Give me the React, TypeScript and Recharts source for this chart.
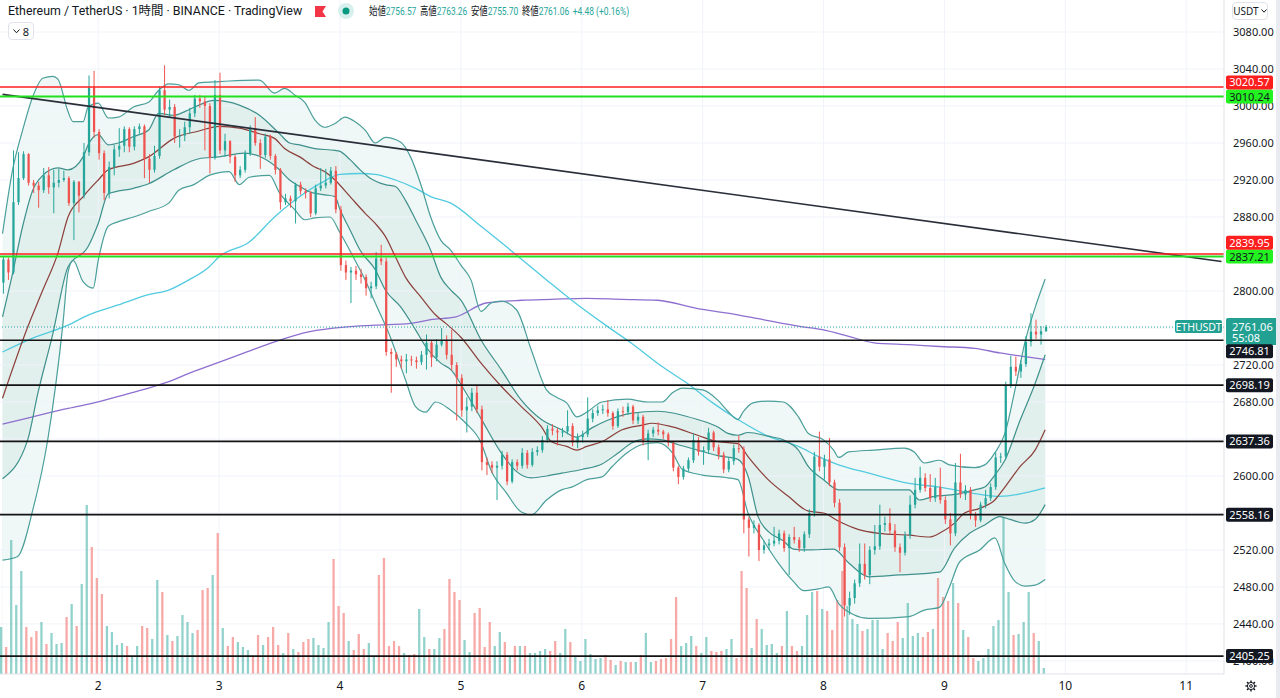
import React from "react";
import { ComposedChart, Bar, Line, Area, XAxis, YAxis, ReferenceLine } from "recharts";

// ETHUSDT 1h candles (open = previous close)
const firstOpen = 2809;

const closes = [
  2834, 2820, 2896, 2922, 2948, 2917, 2914, 2909, 2925, 2912,
  2917, 2920, 2922, 2895, 2918, 2903, 2950, 3020, 2972, 2949,
  2906, 2934, 2953, 2957, 2975, 2956, 2975, 2978, 2943, 2931,
  2946, 3017, 2996, 2999, 2967, 2968, 2977, 2992, 3008, 3005,
  3000, 2944, 3012, 2952, 2962, 2945, 2925, 2931, 2949, 2976,
  2960, 2947, 2967, 2946, 2931, 2896, 2900, 2897, 2915, 2908,
  2906, 2884, 2911, 2914, 2917, 2930, 2888, 2828, 2820, 2822,
  2818, 2815, 2803, 2805, 2835, 2832, 2734, 2732, 2726, 2724,
  2726, 2725, 2723, 2731, 2744, 2728, 2742, 2746, 2731, 2720,
  2706, 2671, 2675, 2690, 2672, 2615, 2612, 2609, 2611, 2623,
  2594, 2615, 2611, 2625, 2612, 2626, 2628, 2639, 2651, 2649,
  2647, 2648, 2654, 2636, 2642, 2645, 2662, 2668, 2671, 2672,
  2668, 2654, 2670, 2669, 2675, 2660, 2664, 2637, 2646, 2650,
  2648, 2645, 2636, 2609, 2599, 2608, 2617, 2639, 2626, 2628,
  2647, 2631, 2623, 2607, 2616, 2630, 2629, 2553, 2544, 2547,
  2520, 2525, 2527, 2530, 2538, 2522, 2534, 2531, 2522, 2537,
  2560, 2621, 2610, 2618, 2593, 2571, 2523, 2460, 2468, 2484,
  2505, 2493, 2520, 2524, 2547, 2549, 2541, 2523, 2517, 2536,
  2569, 2585, 2598, 2587, 2576, 2588, 2574, 2553, 2538, 2593,
  2580, 2585, 2558, 2552, 2569, 2576, 2588, 2620, 2621, 2698,
  2718, 2713, 2721, 2745, 2756, 2753, 2756.57, 2761.06,
];

const highs = [
  2837, 2836, 2952, 2950, 2951, 2949, 2920, 2918, 2933, 2934,
  2931, 2932, 2930, 2924, 2920, 2919, 2960, 3033, 3038, 2975,
  2952, 2940, 2958, 2976, 2978, 2977, 2978, 2981, 2980, 2948,
  2957, 3021, 3044, 3007, 3002, 2975, 2983, 2998, 3012, 3012,
  3010, 3003, 3028, 3036, 2970, 2963, 2947, 2935, 2952, 2979,
  2988, 2964, 2970, 2969, 2948, 2933, 2905, 2903, 2917, 2918,
  2911, 2908, 2915, 2933, 2932, 2934, 2935, 2892, 2833, 2826,
  2827, 2824, 2818, 2810, 2842, 2850, 2836, 2738, 2734, 2730,
  2732, 2730, 2729, 2735, 2753, 2747, 2748, 2760, 2752, 2758,
  2723, 2710, 2685, 2695, 2698, 2676, 2620, 2616, 2616, 2627,
  2626, 2618, 2618, 2630, 2628, 2630, 2632, 2643, 2655, 2656,
  2652, 2652, 2671, 2657, 2646, 2649, 2685, 2672, 2676, 2677,
  2682, 2670, 2673, 2675, 2679, 2677, 2668, 2666, 2650, 2653,
  2658, 2650, 2647, 2638, 2611, 2611, 2620, 2646, 2642, 2632,
  2652, 2649, 2634, 2626, 2620, 2634, 2644, 2632, 2556, 2552,
  2549, 2530, 2532, 2545, 2542, 2541, 2537, 2545, 2534, 2540,
  2564, 2626, 2648, 2623, 2641, 2596, 2575, 2527, 2475, 2488,
  2527, 2527, 2524, 2547, 2569, 2556, 2565, 2548, 2527, 2540,
  2579, 2598, 2610, 2603, 2602, 2598, 2609, 2578, 2560, 2614,
  2624, 2590, 2588, 2561, 2572, 2585, 2592, 2626, 2625, 2702,
  2730, 2729, 2725, 2751, 2776, 2769, 2762, 2763.26,
];

const lows = [
  2797, 2812, 2818, 2893, 2920, 2914, 2906, 2890, 2906, 2905,
  2884, 2912, 2918, 2892, 2855, 2885, 2900, 2946, 2966, 2942,
  2898, 2900, 2925, 2945, 2950, 2950, 2952, 2970, 2922, 2917,
  2928, 2943, 2990, 2988, 2960, 2955, 2962, 2970, 2988, 2998,
  2952, 2927, 2942, 2948, 2945, 2938, 2918, 2922, 2928, 2946,
  2957, 2932, 2944, 2942, 2926, 2888, 2893, 2890, 2873, 2904,
  2900, 2880, 2882, 2908, 2911, 2915, 2884, 2822, 2812, 2787,
  2812, 2808, 2795, 2792, 2802, 2828, 2730, 2690, 2718, 2716,
  2711, 2719, 2716, 2720, 2715, 2718, 2724, 2740, 2726, 2714,
  2660, 2664, 2647, 2670, 2668, 2606, 2601, 2603, 2574, 2607,
  2590, 2592, 2606, 2608, 2608, 2610, 2622, 2625, 2636, 2644,
  2633, 2642, 2645, 2632, 2630, 2636, 2642, 2658, 2665, 2667,
  2664, 2650, 2652, 2664, 2666, 2656, 2656, 2633, 2617, 2642,
  2644, 2640, 2632, 2605, 2591, 2596, 2605, 2614, 2622, 2612,
  2624, 2627, 2618, 2603, 2604, 2612, 2625, 2538, 2513, 2538,
  2508, 2516, 2520, 2524, 2526, 2518, 2493, 2527, 2518, 2518,
  2533, 2556, 2605, 2596, 2589, 2566, 2519, 2448, 2450, 2462,
  2480, 2488, 2483, 2515, 2520, 2540, 2537, 2518, 2496, 2514,
  2532, 2565, 2582, 2583, 2572, 2572, 2570, 2548, 2525, 2535,
  2576, 2574, 2553, 2545, 2550, 2565, 2573, 2585, 2614, 2618,
  2695, 2708, 2706, 2718, 2740, 2748, 2742, 2755.7,
];

// volume, thousand ETH
const volumes = [
  47, 27, 134, 69, 103, 47, 37, 43, 52, 30,
  41, 30, 31, 57, 70, 48, 90, 169, 127, 96,
  80, 48, 42, 29, 31, 28, 18, 28, 48, 46,
  35, 94, 82, 39, 33, 38, 59, 52, 41, 44,
  84, 86, 99, 141, 46, 28, 37, 32, 27, 24,
  18, 39, 29, 37, 47, 29, 21, 41, 25, 22,
  32, 35, 36, 29, 26, 52, 115, 68, 61, 33,
  24, 40, 25, 31, 18, 99, 116, 28, 33, 28,
  21, 19, 20, 65, 37, 25, 25, 36, 45, 95,
  82, 74, 34, 22, 61, 66, 27, 52, 28, 42,
  32, 18, 28, 28, 28, 21, 21, 23, 25, 23,
  33, 21, 45, 32, 18, 13, 35, 20, 15, 16,
  19, 14, 9, 13, 12, 12, 12, 19, 41, 12,
  13, 15, 16, 35, 77, 28, 31, 38, 28, 21,
  37, 23, 22, 23, 25, 35, 16, 103, 86, 26,
  55, 45, 29, 30, 21, 28, 63, 28, 23, 28,
  59, 82, 83, 65, 63, 44, 74, 103, 68, 55,
  50, 43, 45, 54, 54, 25, 41, 33, 52, 36,
  71, 38, 41, 37, 42, 45, 96, 77, 73, 91,
  71, 44, 37, 16, 13, 16, 25, 48, 54, 157,
  82, 39, 40, 52, 82, 41, 33, 6,
];

// indicator lines, [candle index, price]
const bandOuterUpper = [
  [0, 2862], [2, 2931], [4, 2974], [6, 3010], [8, 3030], [10, 3032], [11, 3029], [13, 2994], [14, 2983], [16, 2983],
  [17, 2999], [19, 3003], [21, 2987], [23, 2988], [26, 2999], [29, 3004], [31, 3017], [33, 3024], [35, 3023], [37, 3017],
  [39, 3025], [42, 3026], [45, 3027], [51, 3028], [54, 3014], [56, 3019], [58, 3012], [60, 3004], [62, 2985], [64, 2977],
  [66, 2981], [68, 2988], [70, 2983], [72, 2974], [74, 2960], [76, 2966], [79, 2961], [81, 2945], [83, 2916], [85, 2880],
  [87, 2855], [89, 2844], [91, 2828], [93, 2812], [95, 2778], [97, 2787], [99, 2789], [102, 2780], [105, 2736], [108, 2693],
  [110, 2685], [112, 2679], [114, 2664], [116, 2669], [119, 2680], [124, 2683], [128, 2680], [131, 2680], [133, 2690], [135, 2695],
  [139, 2693], [142, 2682], [144, 2670], [146, 2661], [147, 2669], [149, 2679], [152, 2681], [155, 2680], [158, 2664], [160, 2646],
  [163, 2639], [165, 2628], [166, 2620], [168, 2626], [173, 2628], [179, 2630], [181, 2626], [183, 2614], [186, 2617], [188, 2612],
  [193, 2609], [195, 2612], [197, 2625], [199, 2646], [201, 2693], [203, 2745], [205, 2782], [207, 2813],
];

const bandInnerUpper = [
  [0, 2772], [2, 2819], [4, 2870], [6, 2909], [8, 2925], [11, 2933], [13, 2931], [16, 2945], [17, 2958], [19, 2969],
  [21, 2958], [23, 2960], [26, 2967], [29, 2974], [31, 2992], [34, 2990], [37, 2996], [39, 3001], [42, 3006], [47, 3001],
  [51, 2990], [55, 2970], [57, 2960], [59, 2958], [62, 2954], [66, 2952], [67, 2951], [69, 2942], [71, 2931], [73, 2922],
  [76, 2915], [78, 2913], [80, 2898], [82, 2877], [85, 2844], [87, 2815], [89, 2801], [91, 2790], [95, 2747], [99, 2715],
  [103, 2682], [107, 2661], [111, 2650], [114, 2642], [117, 2652], [120, 2660], [125, 2668], [130, 2670], [138, 2661], [142, 2653],
  [144, 2646], [146, 2644], [148, 2647], [152, 2643], [155, 2639], [158, 2628], [160, 2610], [163, 2596], [166, 2585], [168, 2585],
  [180, 2585], [182, 2574], [185, 2578], [187, 2579], [190, 2581], [193, 2585], [195, 2588], [197, 2601], [199, 2617], [202, 2660],
  [205, 2700], [207, 2731],
];

const bandBasis = [
  [0, 2684], [5, 2761], [8, 2801], [11, 2841], [13, 2880], [16, 2902], [19, 2920], [21, 2931], [26, 2938], [29, 2945],
  [34, 2965], [39, 2973], [43, 2978], [47, 2976], [51, 2970], [54, 2965], [56, 2954], [59, 2945], [62, 2934], [64, 2929],
  [66, 2920], [69, 2902], [72, 2884], [74, 2873], [76, 2859], [78, 2837], [80, 2815], [83, 2794], [86, 2774], [88, 2765],
  [91, 2750], [95, 2722], [99, 2697], [103, 2675], [107, 2653], [109, 2637], [112, 2632], [114, 2628], [116, 2632], [119, 2637],
  [123, 2650], [127, 2655], [129, 2657], [133, 2653], [138, 2644], [142, 2637], [146, 2635], [148, 2621], [152, 2596], [156, 2578],
  [160, 2562], [163, 2560], [166, 2551], [170, 2542], [174, 2538], [180, 2536], [184, 2534], [186, 2538], [189, 2549], [191, 2560],
  [194, 2565], [197, 2574], [199, 2588], [202, 2610], [205, 2628], [207, 2650],
];

const bandInnerLower = [
  [0, 2597], [5, 2639], [7, 2689], [10, 2754], [13, 2826], [17, 2848], [19, 2873], [21, 2905], [26, 2911], [29, 2916],
  [34, 2931], [39, 2943], [43, 2945], [48, 2949], [52, 2943], [55, 2931], [57, 2920], [59, 2913], [61, 2907], [64, 2904],
  [66, 2902], [67, 2888], [69, 2866], [71, 2844], [74, 2823], [76, 2801], [79, 2783], [82, 2758], [84, 2740], [87, 2722],
  [89, 2715], [92, 2690], [95, 2662], [99, 2625], [102, 2605], [105, 2598], [108, 2600], [111, 2603], [115, 2607], [119, 2613],
  [122, 2624], [125, 2636], [128, 2640], [131, 2639], [134, 2634], [138, 2628], [142, 2622], [146, 2618], [148, 2600], [150, 2556],
  [152, 2540], [155, 2530], [157, 2521], [160, 2520], [165, 2521], [168, 2506], [172, 2491], [178, 2493], [186, 2496], [189, 2522],
  [192, 2538], [195, 2547], [198, 2556], [200, 2553], [203, 2549], [205, 2553], [207, 2569],
];

const bandOuterLower = [
  [0, 2509], [3, 2513], [6, 2563], [9, 2640], [12, 2765], [13, 2820], [14, 2833], [16, 2810], [18, 2803], [19, 2833],
  [21, 2870], [23, 2875], [26, 2880], [29, 2886], [33, 2895], [35, 2909], [38, 2915], [41, 2925], [43, 2928], [45, 2929],
  [47, 2915], [49, 2923], [53, 2925], [55, 2906], [58, 2888], [60, 2877], [62, 2879], [65, 2880], [67, 2863], [70, 2833],
  [72, 2812], [74, 2787], [77, 2750], [80, 2704], [82, 2675], [84, 2669], [86, 2680], [89, 2671], [92, 2657], [95, 2636],
  [97, 2606], [100, 2582], [103, 2561], [105, 2558], [108, 2574], [111, 2585], [113, 2588], [116, 2596], [119, 2599], [121, 2610],
  [124, 2625], [127, 2634], [130, 2636], [133, 2625], [135, 2607], [139, 2601], [144, 2598], [146, 2596], [148, 2560], [151, 2531],
  [154, 2506], [157, 2486], [159, 2476], [162, 2478], [164, 2480], [166, 2462], [169, 2450], [172, 2446], [180, 2448], [183, 2455],
  [186, 2458], [188, 2480], [190, 2507], [194, 2520], [197, 2533], [199, 2505], [201, 2486], [203, 2481], [205, 2482], [207, 2488],
];

const maCyan = [
  [0, 2734], [6, 2749], [13, 2763], [17, 2774], [23, 2785], [29, 2796], [33, 2801], [37, 2812], [41, 2826], [43, 2837],
  [49, 2853], [54, 2880], [58, 2898], [63, 2916], [67, 2926], [71, 2927], [74, 2926], [78, 2920], [82, 2911], [85, 2902],
  [89, 2895], [95, 2870], [100, 2848], [104, 2830], [108, 2812], [113, 2790], [120, 2762], [125, 2743], [131, 2718], [136, 2700],
  [141, 2679], [146, 2661], [152, 2643], [158, 2632], [162, 2621], [166, 2612], [172, 2603], [180, 2592], [186, 2588], [193, 2581],
  [198, 2578], [207, 2587],
];

const maPurple = [
  [0, 2656], [6, 2664], [13, 2673], [19, 2680], [25, 2689], [29, 2695], [33, 2702], [37, 2711], [41, 2719], [44, 2725],
  [48, 2733], [54, 2745], [61, 2756], [68, 2761], [74, 2763], [81, 2765], [85, 2769], [90, 2772], [96, 2787], [103, 2790],
  [109, 2791], [116, 2792], [123, 2791], [130, 2790], [138, 2781], [144, 2776], [151, 2769], [158, 2762], [163, 2758], [168, 2751],
  [173, 2744], [180, 2742], [186, 2740], [193, 2738], [198, 2733], [203, 2729], [207, 2726],
];

// drawings
const redLevels = [3020.57, 2839.95];
const greenLevels = [3010.24, 2837.21];
const blackLevels = [2746.81, 2698.19, 2637.36, 2558.16, 2405.25];
const trendLine = [
  [0, 3012.6],
  [242, 2831.9],
];
const lastPrice = 2761.06;
const countdown = "55:08";

const dayTicks = [19, 43, 67, 91, 115, 139, 163, 187, 211, 235];
const dayLabels = ["2", "3", "4", "5", "6", "7", "8", "9", "10", "11"];
const priceTicks = [2400, 2440, 2480, 2520, 2560, 2600, 2640, 2680, 2720, 2760, 2800, 2840, 2880, 2920, 2960, 3000, 3040, 3080];
// scale labels that sit fully under a price tag on the reference
const coveredTicks = [2560, 2640, 2760, 2840];

const legend = [
  ["始値", "2756.57"],
  ["高値", "2763.26"],
  ["安値", "2755.70"],
  ["終値", "2761.06"],
];
const change = "+4.48 (+0.16%)";

const SLOTS = 243;
const PRICE_MIN = 2385.9;
const PRICE_MAX = 3114.6;

const UP = "#26a69a";
const DOWN = "#ef5350";
const FONT = "'Noto Sans', 'Noto Sans CJK JP', sans-serif";
const HEAD_FONT = "Roboto, 'Noto Sans CJK JP', sans-serif";

type Row = { [k: string]: any };

const rows: Row[] = Array.from({ length: SLOTS }, (_, i) => ({ i }));
closes.forEach((c, i) => {
  const o = i === 0 ? firstOpen : closes[i - 1];
  rows[i].o = o;
  rows[i].c = c;
  rows[i].h = Math.max(highs[i], o, c);
  rows[i].l = Math.min(lows[i], o, c);
  rows[i].v = volumes[i];
  rows[i].up = c >= o;
});
const put = (pts: number[][], key: string) => pts.forEach(([i, p]) => (rows[i][key] = p));
put(bandOuterUpper, "ou");
put(bandInnerUpper, "iu");
put(bandBasis, "mid");
put(bandInnerLower, "il");
put(bandOuterLower, "ol");
put(maCyan, "cy");
put(maPurple, "pu");

const Candle = (props: any) => {
  const { x, y, width, height, payload } = props;
  if (!payload || payload.c == null || !isFinite(y) || !isFinite(height)) return null;
  const { o, h, l, c } = payload;
  const color = c >= o ? UP : DOWN;
  const top = Math.min(y, y + height);
  const px = Math.abs(height);
  const span = h - l || 1;
  const at = (p: number) => top + ((h - p) / span) * px;
  const bodyTop = at(Math.max(o, c));
  const bodyBottom = at(Math.min(o, c));
  const cx = x + width / 2;
  return (
    <g>
      <line x1={cx} x2={cx} y1={top} y2={top + px} stroke={color} strokeWidth={1} />
      <rect x={x} y={bodyTop} width={width} height={Math.max(1, bodyBottom - bodyTop)} fill={color} />
    </g>
  );
};

const VolumeBar = (props: any) => {
  const { x, y, width, height, payload } = props;
  if (!payload || payload.v == null || !isFinite(y)) return null;
  return (
    <rect
      x={x}
      y={Math.min(y, y + height)}
      width={width}
      height={Math.abs(height)}
      fill={payload.up ? "rgba(38,166,154,0.5)" : "rgba(239,83,80,0.5)"}
    />
  );
};

// price scale text, drawn as the label of each horizontal grid line
const tickText = (text: string) => (props: any) => {
  const vb = props.viewBox ?? {};
  const x0 = (vb.x ?? 0) + (vb.width ?? 0);
  return (
    <text x={x0 + 9} y={(vb.y ?? 0) + 4} fontSize={11} fill="#131722" fontFamily={FONT}>
      {text}
    </text>
  );
};

const tag = (text: string, bg: string, fg: string, dy = 0) => (props: any) => {
  const vb = props.viewBox ?? {};
  const x0 = (vb.x ?? 0) + (vb.width ?? 0);
  const cy = (vb.y ?? 0) + dy;
  return (
    <g>
      <rect x={x0 + 2} y={cy - 7} width={47} height={14} rx={2} fill={bg} />
      <text x={x0 + 25.5} y={cy + 4} textAnchor="middle" fontSize={11} fill={fg} fontFamily={FONT}>
        {text}
      </text>
    </g>
  );
};

const lastTag = (props: any) => {
  const vb = props.viewBox ?? {};
  const x0 = (vb.x ?? 0) + (vb.width ?? 0);
  const cy = vb.y ?? 0;
  return (
    <g fontFamily={FONT}>
      <rect x={x0 - 49} y={cy - 7} width={47} height={13} rx={2} fill="#22a193" />
      <text x={x0 - 25.5} y={cy + 3.5} textAnchor="middle" fontSize={10.5} fill="#fff">
        ETHUSDT
      </text>
      <rect x={x0 + 2} y={cy - 9} width={54} height={27} rx={2} fill="#22a193" />
      <text x={x0 + 8} y={cy + 4} fontSize={11} fill="#fff">
        {lastPrice.toFixed(2)}
      </text>
      <text x={x0 + 8} y={cy + 15} fontSize={11} fill="#fff">
        {countdown}
      </text>
    </g>
  );
};

const redTagOffset: Record<number, number> = { 3020.57: -4.5, 2839.95: -11.4 };
const blackTagOffset: Record<number, number> = { 2746.81: 11 };

const Gear = () => (
  <svg width={14} height={14} viewBox="0 0 14 14" style={{ position: "absolute", left: 1244, top: 679 }}>
    <circle cx={7} cy={7} r={3.6} fill="none" stroke="#131722" strokeWidth={1} />
    <circle cx={7} cy={7} r={1.4} fill="none" stroke="#131722" strokeWidth={1} />
    {[0, 45, 90, 135, 180, 225, 270, 315].map((a) => (
      <line
        key={a}
        x1={7 + 3.6 * Math.cos((a * Math.PI) / 180)}
        y1={7 + 3.6 * Math.sin((a * Math.PI) / 180)}
        x2={7 + 5.6 * Math.cos((a * Math.PI) / 180)}
        y2={7 + 5.6 * Math.sin((a * Math.PI) / 180)}
        stroke="#131722"
        strokeWidth={1.4}
      />
    ))}
  </svg>
);

export default function App() {
  const lineProps = {
    yAxisId: "price",
    dot: false,
    activeDot: false,
    connectNulls: true,
    isAnimationActive: false,
    type: "monotone" as const,
  };
  const maskProps = {
    yAxisId: "price",
    baseValue: PRICE_MIN,
    stroke: "none",
    connectNulls: true,
    isAnimationActive: false,
    type: "monotone" as const,
    dot: false,
    activeDot: false,
  };
  return (
    <div
      style={{
        position: "fixed",
        left: 0,
        top: 0,
        width: 1280,
        height: 698,
        background: "#fff",
        fontFamily: FONT,
        overflow: "hidden",
      }}
    >
      <ComposedChart width={1280} height={698} data={rows} margin={{ top: 0, right: 0, bottom: 0, left: 0 }}>
        <XAxis
          dataKey="i"
          type="category"
          ticks={dayTicks}
          interval={0}
          height={24}
          tickLine={false}
          tickSize={0}
          tickMargin={7}
          axisLine={{ stroke: "#e0e3eb" }}
          tick={{ fontSize: 12, fill: "#131722", fontFamily: FONT }}
          tickFormatter={(v: number) => dayLabels[dayTicks.indexOf(v)] ?? ""}
        />
        <YAxis
          yAxisId="price"
          orientation="right"
          width={56}
          type="number"
          domain={[PRICE_MIN, PRICE_MAX]}
          allowDataOverflow
          ticks={priceTicks}
          interval={0}
          tick={false}
          tickLine={false}
          axisLine={{ stroke: "#e0e3eb" }}
        />
        <YAxis yAxisId="vol" hide type="number" domain={[0, 674]} allowDataOverflow />

        {/* band fills, painted from the top line down */}
        <Area {...maskProps} dataKey="ou" fill="#f0f8f7" fillOpacity={1} zIndex={10} />
        <Area {...maskProps} dataKey="iu" fill="#e1efed" fillOpacity={1} zIndex={11} />
        <Area {...maskProps} dataKey="il" fill="#f0f8f7" fillOpacity={1} zIndex={12} />
        <Area {...maskProps} dataKey="ol" fill="#ffffff" fillOpacity={1} zIndex={13} />

        {priceTicks.map((p) => (
          <ReferenceLine
            key={"gh" + p}
            yAxisId="price"
            y={p}
            stroke="#f0f3fa"
            strokeWidth={1}
            label={coveredTicks.includes(p) ? undefined : tickText(p.toFixed(2))}
            zIndex={20}
          />
        ))}
        {dayTicks.map((d) => (
          <ReferenceLine key={"gv" + d} yAxisId="price" x={d} stroke="#f0f3fa" strokeWidth={1} zIndex={20} />
        ))}

        <Bar yAxisId="vol" dataKey="v" barSize={4.2} shape={VolumeBar} isAnimationActive={false} zIndex={30} />

        <Line {...lineProps} dataKey="pu" stroke="#8e6fd0" strokeWidth={1.3} zIndex={40} />
        <Line {...lineProps} dataKey="cy" stroke="#52cbe0" strokeWidth={1.3} zIndex={40} />
        <Line {...lineProps} dataKey="ou" stroke="#4a9f9a" strokeWidth={1.2} zIndex={40} />
        <Line {...lineProps} dataKey="iu" stroke="#3f918c" strokeWidth={1.2} zIndex={40} />
        <Line {...lineProps} dataKey="mid" stroke="#8b3f3a" strokeWidth={1.2} zIndex={40} />
        <Line {...lineProps} dataKey="il" stroke="#3f918c" strokeWidth={1.2} zIndex={40} />
        <Line {...lineProps} dataKey="ol" stroke="#4a9f9a" strokeWidth={1.2} zIndex={40} />

        <Bar
          yAxisId="price"
          dataKey={(d: Row) => (d.c == null ? null : [d.l, d.h])}
          barSize={3.6}
          shape={Candle}
          isAnimationActive={false}
          zIndex={50}
        />

        <ReferenceLine
          yAxisId="price"
          segment={[
            { x: trendLine[0][0], y: trendLine[0][1] },
            { x: trendLine[1][0], y: trendLine[1][1] },
          ]}
          stroke="#2a2e39"
          strokeWidth={1.6}
          zIndex={60}
        />
        <ReferenceLine
          yAxisId="price"
          y={lastPrice}
          stroke="#26a69a"
          strokeDasharray="1 2"
          strokeWidth={1}
          label={lastTag}
          zIndex={60}
        />
        {blackLevels.map((p) => (
          <ReferenceLine
            key={"b" + p}
            yAxisId="price"
            y={p}
            stroke="#131313"
            strokeWidth={1.6}
            label={tag(p.toFixed(2), "#131722", "#ffffff", blackTagOffset[p] ?? 0)}
            zIndex={60}
          />
        ))}
        {greenLevels.map((p) => (
          <ReferenceLine
            key={"g" + p}
            yAxisId="price"
            y={p}
            stroke="#22e01f"
            strokeWidth={2}
            label={tag(p.toFixed(2), "#22f21f", "#131722", 0)}
            zIndex={61}
          />
        ))}
        {redLevels.map((p) => (
          <ReferenceLine
            key={"r" + p}
            yAxisId="price"
            y={p}
            stroke="#ff1e1e"
            strokeWidth={1.6}
            label={tag(p.toFixed(2), "#ff1e1e", "#ffffff", redTagOffset[p] ?? 0)}
            zIndex={62}
          />
        ))}
      </ComposedChart>

      {/* legend header */}
      <div
        style={{
          position: "absolute",
          left: 8,
          top: 3,
          fontSize: 12.4,
          fontFamily: HEAD_FONT,
          color: "#131722",
          whiteSpace: "nowrap",
          lineHeight: "16px",
        }}
      >
        Ethereum / TetherUS · 1時間 · BINANCE · TradingView
      </div>
      <svg width={12} height={11} style={{ position: "absolute", left: 315, top: 6 }}>
        <path d="M0 0 H11 L7.5 5.5 L11 11 H0 Z" fill="#f23645" />
      </svg>
      <svg width={18} height={18} style={{ position: "absolute", left: 337, top: 2 }}>
        <circle cx={9} cy={9} r={8} fill="#d8f0ed" />
        <circle cx={9} cy={9} r={3.5} fill="#089981" />
      </svg>
      <div
        style={{
          position: "absolute",
          left: 369,
          top: 4,
          fontSize: 11.5,
          fontFamily: HEAD_FONT,
          color: "#131722",
          whiteSpace: "nowrap",
          lineHeight: "14px",
          transform: "scaleX(0.73)",
          transformOrigin: "left center",
        }}
      >
        {legend.map(([k, v]) => (
          <span key={k} style={{ marginRight: 5 }}>
            {k}
            <span style={{ color: UP }}>{v}</span>
          </span>
        ))}
        <span style={{ color: UP }}>{change}</span>
      </div>
      <div
        style={{
          position: "absolute",
          left: 8,
          top: 22,
          width: 24,
          height: 16,
          border: "1px solid #e0e3eb",
          borderRadius: 4,
          background: "#fff",
          fontSize: 11,
          color: "#131722",
          display: "flex",
          alignItems: "center",
          justifyContent: "center",
          gap: 3,
        }}
      >
        <svg width={7} height={5}>
          <path d="M0.5 0.5 L3.5 3.8 L6.5 0.5" fill="none" stroke="#131722" strokeWidth={1} />
        </svg>
        <span>8</span>
      </div>
      <div
        style={{
          position: "absolute",
          left: 1232,
          top: 2,
          width: 34,
          height: 16,
          border: "1px solid #e0e3eb",
          borderRadius: 4,
          background: "#fff",
          fontSize: 10,
          color: "#131722",
          display: "flex",
          alignItems: "center",
          justifyContent: "center",
          gap: 2,
        }}
      >
        <span>USDT</span>
        <svg width={6} height={4}>
          <path d="M0.5 0.5 L3 3.2 L5.5 0.5" fill="none" stroke="#131722" strokeWidth={1} />
        </svg>
      </div>
      <div style={{ position: "absolute", left: 1276, top: 0, width: 4, height: 698, background: "#e9ebf0" }} />
      <Gear />
    </div>
  );
}
